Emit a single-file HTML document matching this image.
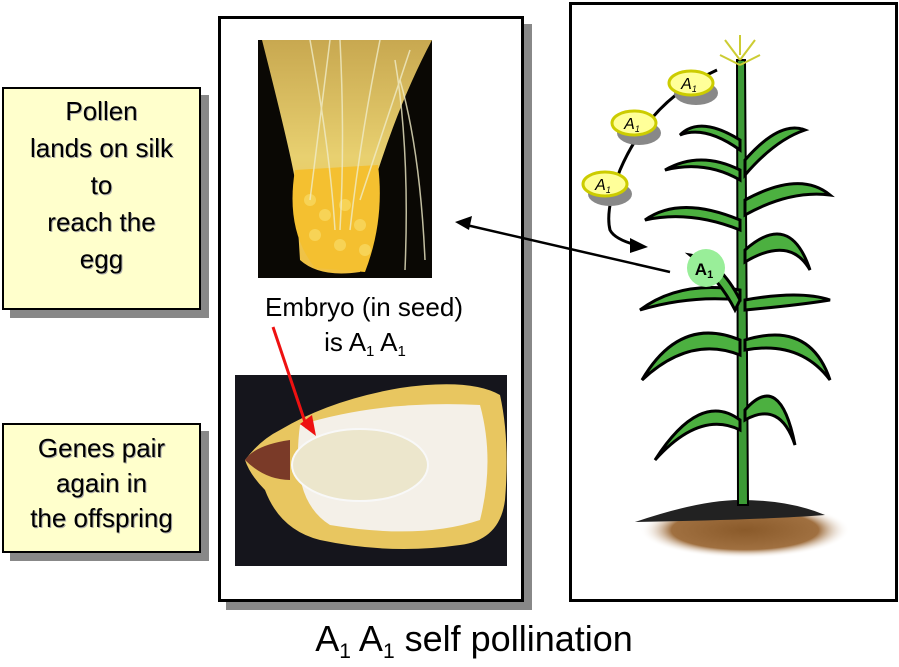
<!DOCTYPE html>
<html><head><style>
body{margin:0;width:899px;height:667px;background:#fff;position:relative;overflow:hidden;font-family:"Liberation Sans",sans-serif}
.box{position:absolute;background:#ffffcc;border:2px solid #000;box-shadow:8px 8px 0 #888;text-align:center;font-size:26px;color:#000;text-shadow:1px 1px 0 #aaa}
</style></head><body>
<div class="box" style="left:2px;top:87px;width:199px;height:223px;line-height:37px;padding-top:4px;box-sizing:border-box">Pollen<br>lands on silk<br>to<br>reach the<br>egg</div>
<div class="box" style="left:2px;top:423px;width:199px;height:130px;line-height:35px;padding-top:6px;box-sizing:border-box">Genes pair<br>again in<br>the offspring</div>
<div style="position:absolute;left:218px;top:16px;width:300px;height:580px;border:3px solid #000;box-shadow:8px 8px 0 #888;background:#fff"></div>
<div style="position:absolute;left:569px;top:2px;width:323px;height:594px;border:3px solid #000;background:#fff"></div>
<svg width="899" height="667" style="position:absolute;left:0;top:0">
<defs>
<linearGradient id="silk" x1="0" y1="0" x2="0" y2="1"><stop offset="0" stop-color="#c8a850"/><stop offset="0.5" stop-color="#e8d070"/><stop offset="1" stop-color="#f0c040"/></linearGradient>
<radialGradient id="soil"><stop offset="0" stop-color="#8a5a2a"/><stop offset="0.7" stop-color="#a07040"/><stop offset="1" stop-color="#fff" stop-opacity="0"/></radialGradient>
</defs>
<rect x="258" y="40" width="174" height="238" fill="#0a0804"/>
<path d="M262 40 Q290 150 295 180 L300 260 Q320 278 360 272 L375 180 Q400 100 432 40 Z" fill="url(#silk)"/>
<path d="M295 170 Q285 230 315 268 L365 272 Q385 220 378 165 Z" fill="#f4c030"/>
<g fill="#f8d860" opacity="0.8"><circle cx="310" cy="200" r="6"/><circle cx="325" cy="215" r="6"/><circle cx="345" cy="205" r="6"/><circle cx="360" cy="225" r="6"/><circle cx="315" cy="235" r="6"/><circle cx="340" cy="245" r="6"/><circle cx="365" cy="250" r="6"/></g>
<g stroke="#f0ecc8" stroke-width="1.5" fill="none" opacity="0.8">
<path d="M310 40 Q330 150 335 230"/><path d="M340 40 Q345 140 340 230"/><path d="M380 40 Q360 140 350 230"/><path d="M410 50 Q380 140 360 200"/><path d="M330 40 Q320 120 310 200"/><path d="M400 80 Q420 150 425 260"/><path d="M395 60 Q410 150 405 270"/></g>
<rect x="235" y="375" width="272" height="191" fill="#15151c"/>
<path d="M245 460 Q260 440 280 430 Q330 400 400 388 Q470 378 500 395 Q510 440 505 500 Q500 540 460 545 Q390 555 320 540 Q280 530 265 490 Q250 475 245 460Z" fill="#e8c660"/>
<path d="M300 425 Q380 400 480 405 Q495 460 480 520 Q420 540 330 525 Q290 500 300 425Z" fill="#f4f0e8"/>
<path d="M245 460 Q255 445 290 440 L290 480 Q265 480 245 460Z" fill="#7a3a28"/>
<ellipse cx="360" cy="465" rx="68" ry="36" fill="#ece6cc" stroke="#f8f8f8" stroke-width="2"/>
<line x1="273" y1="327" x2="307" y2="428" stroke="#ee1111" stroke-width="3"/>
<polygon points="300,424 316,436 312,415" fill="#ee1111"/>
<text x="364" y="316" font-size="26" text-anchor="middle" fill="#000">Embryo (in seed)</text>
<text x="365" y="351" font-size="26" text-anchor="middle" fill="#000">is A<tspan font-size="15" dy="5">1</tspan><tspan dy="-5"> A</tspan><tspan font-size="15" dy="5">1</tspan></text>
<line x1="670" y1="272" x2="462" y2="224" stroke="#000" stroke-width="2.5"/>
<polygon points="455,222 472,216 469,230" fill="#000"/>
<ellipse cx="745" cy="530" rx="105" ry="28" fill="url(#soil)"/>
<path d="M635 522 Q700 500 740 500 Q790 500 825 515 Q760 520 635 522Z" fill="#222"/>
<path d="M737 60 L745 60 L748 505 L738 505 Z" fill="#3c9a36" stroke="#000" stroke-width="2"/>
<g fill="#4cb040" stroke="#000" stroke-width="3">
<path d="M740 140 Q700 115 680 135 Q705 125 740 150Z"/>
<path d="M740 170 Q700 150 665 170 Q705 160 740 180Z"/>
<path d="M745 160 Q780 120 805 130 Q775 140 745 175Z"/>
<path d="M740 220 Q680 195 645 220 Q690 210 740 230Z"/>
<path d="M745 200 Q800 170 830 195 Q790 190 745 215Z"/>
<path d="M745 250 Q790 210 810 270 Q790 235 745 262Z"/>
<path d="M740 290 Q680 280 640 310 Q690 295 740 300Z"/>
<path d="M745 300 Q800 290 830 300 Q800 305 745 310Z"/>
<path d="M740 340 Q680 315 642 380 Q690 335 740 355Z"/>
<path d="M745 340 Q810 320 830 380 Q800 340 745 350Z"/>
<path d="M740 420 Q700 390 655 460 Q700 410 740 430Z"/>
<path d="M745 410 Q780 370 795 445 Q780 400 745 420Z"/>
<path d="M740 300 Q720 260 690 255 Q720 280 735 310Z"/>
</g>
<g stroke="#cccc33" stroke-width="2"><path d="M740 60 L725 40 M740 60 L755 40 M740 55 L740 35 M740 65 L720 55 M740 65 L760 55"/></g>
<path d="M717 70 Q650 100 620 170 Q605 210 610 230 Q615 240 640 246" fill="none" stroke="#000" stroke-width="3"/>
<polygon points="630,238 648,247 630,253" fill="#000"/>
<g font-size="16" font-style="italic" text-anchor="middle">
<ellipse cx="691" cy="87" rx="22" ry="12" fill="#888" transform="translate(5,6)"/>
<ellipse cx="691" cy="83" rx="22" ry="12" fill="#ffff99" stroke="#cccc00" stroke-width="3"/><text x="689" y="89">A<tspan font-size="9" dy="3">1</tspan></text>
<ellipse cx="634" cy="127" rx="22" ry="12" fill="#888" transform="translate(5,6)"/>
<ellipse cx="634" cy="123" rx="22" ry="12" fill="#ffff99" stroke="#cccc00" stroke-width="3"/><text x="632" y="129">A<tspan font-size="9" dy="3">1</tspan></text>
<ellipse cx="605" cy="188" rx="22" ry="12" fill="#888" transform="translate(5,6)"/>
<ellipse cx="605" cy="184" rx="22" ry="12" fill="#ffff99" stroke="#cccc00" stroke-width="3"/><text x="603" y="190">A<tspan font-size="9" dy="3">1</tspan></text>
</g>
<circle cx="706" cy="268" r="19" fill="#99ee99"/>
<text x="704" y="275" font-size="17" font-weight="bold" text-anchor="middle">A<tspan font-size="11" dy="3">1</tspan></text>
<text x="474" y="651" font-size="36" text-anchor="middle">A<tspan font-size="21" dy="7">1</tspan><tspan dy="-7"> A</tspan><tspan font-size="21" dy="7">1</tspan><tspan dy="-7"> self pollination</tspan></text>
</svg>
</body></html>
